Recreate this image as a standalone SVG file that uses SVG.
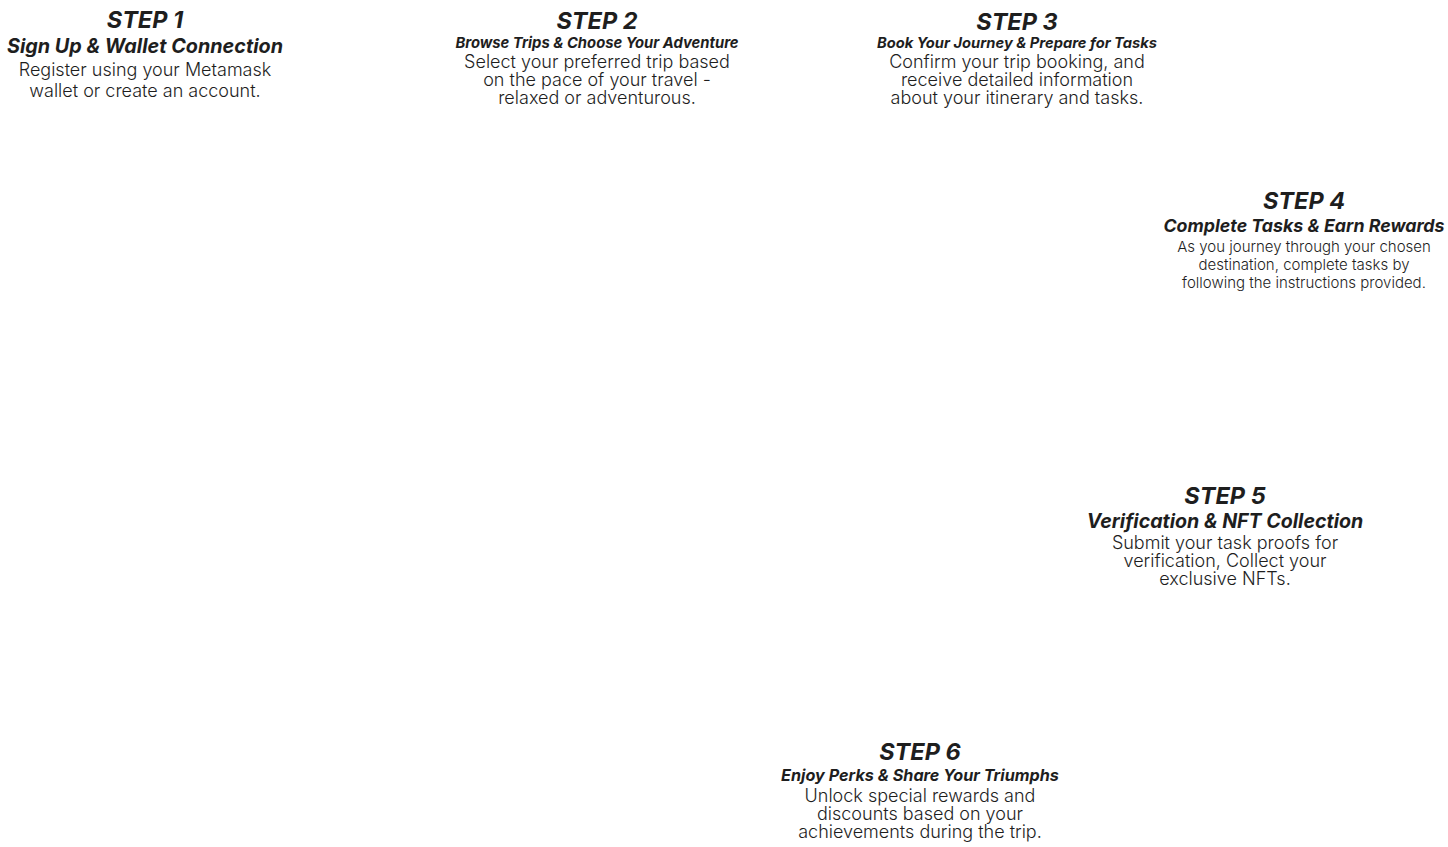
<svg xmlns="http://www.w3.org/2000/svg" width="1448" height="847" viewBox="0 0 1448 847">
<style>
text{font-family:Inter,"Noto Sans","Liberation Sans",sans-serif;text-anchor:middle;fill:#1e1e1e}
.h{font-weight:700;font-style:italic;font-size:23.5px}
.s{font-weight:700;font-style:italic}
.b{font-weight:300}
</style>
<rect width="1448" height="847" fill="#ffffff"/>
<g id="step1">
<text class="h" x="145" y="28">STEP 1</text>
<text class="s" x="145" y="53" font-size="19.8">Sign Up &amp; Wallet Connection</text>
<text class="b" x="145" y="76" font-size="18">Register using your Metamask</text>
<text class="b" x="145" y="97" font-size="18">wallet or create an account.</text>
</g>
<g id="step2">
<text class="h" x="597" y="29">STEP 2</text>
<text class="s" x="597" y="48" font-size="14.8">Browse Trips &amp; Choose Your Adventure</text>
<text class="b" x="597" y="68" font-size="18">Select your preferred trip based</text>
<text class="b" x="597" y="86" font-size="18">on the pace of your travel -</text>
<text class="b" x="597" y="104" font-size="18">relaxed or adventurous.</text>
</g>
<g id="step3">
<text class="h" x="1017" y="30">STEP 3</text>
<text class="s" x="1017" y="48" font-size="14.7">Book Your Journey &amp; Prepare for Tasks</text>
<text class="b" x="1017" y="68" font-size="18">Confirm your trip booking, and</text>
<text class="b" x="1017" y="86" font-size="18">receive detailed information</text>
<text class="b" x="1017" y="104" font-size="18">about your itinerary and tasks.</text>
</g>
<g id="step4">
<text class="h" x="1304" y="209">STEP 4</text>
<text class="s" x="1304" y="232" font-size="17.8">Complete Tasks &amp; Earn Rewards</text>
<text class="b" x="1304" y="252" font-size="15">As you journey through your chosen</text>
<text class="b" x="1304" y="270" font-size="15">destination, complete tasks by</text>
<text class="b" x="1304" y="288" font-size="15">following the instructions provided.</text>
</g>
<g id="step5">
<text class="h" x="1225" y="504">STEP 5</text>
<text class="s" x="1225" y="528" font-size="19.6">Verification &amp; NFT Collection</text>
<text class="b" x="1225" y="549" font-size="18">Submit your task proofs for</text>
<text class="b" x="1225" y="567" font-size="18">verification, Collect your</text>
<text class="b" x="1225" y="585" font-size="18">exclusive NFTs.</text>
</g>
<g id="step6">
<text class="h" x="920" y="760">STEP 6</text>
<text class="s" x="920" y="781" font-size="16.2">Enjoy Perks &amp; Share Your Triumphs</text>
<text class="b" x="920" y="802" font-size="18">Unlock special rewards and</text>
<text class="b" x="920" y="820" font-size="18">discounts based on your</text>
<text class="b" x="920" y="838" font-size="18">achievements during the trip.</text>
</g>
<g id="connectors"></g>
</svg>
